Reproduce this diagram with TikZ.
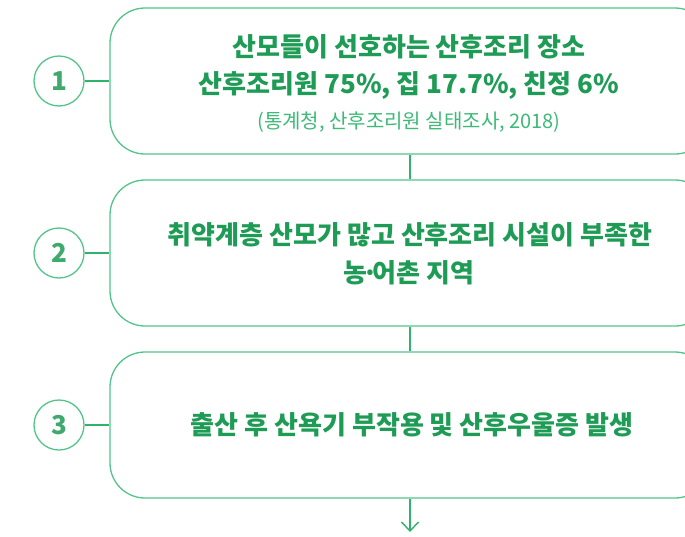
\documentclass[tikz,border=0pt]{standalone}
\usepackage{fontspec}
\setmainfont{Noto Sans CJK KR}
\newfontfamily\krfont{Noto Sans CJK KR}
\usetikzlibrary{arrows.meta}
\definecolor{bordergreen}{HTML}{52C48A}
\definecolor{linegreen}{HTML}{2DB36A}
\definecolor{textgreen}{HTML}{1E9B55}
\definecolor{subgreen}{HTML}{3DB978}
\tikzset{
  stepbox/.style={draw=bordergreen, line width=1.3pt, rounded corners=35pt,
    minimum width=600pt, minimum height=146pt, inner sep=0pt},
  numcircle/.style={circle, draw=bordergreen, line width=1.3pt, minimum size=50pt,
    inner sep=0pt, text=textgreen!85!white, font=\krfont\bfseries\fontsize{26}{26}\selectfont},
  link/.style={draw=linegreen, line width=1.4pt},
  title/.style={text=textgreen, font=\krfont\bfseries\fontsize{26}{26}\selectfont, inner sep=0pt, anchor=center},
  source/.style={text=subgreen, font=\krfont\fontsize{20}{20}\selectfont, inner sep=0pt, anchor=center}
}
\begin{document}
\begin{tikzpicture}[x=1pt,y=-1pt]
\useasboundingbox (0,0) rectangle (685,536);
\node[stepbox] (box1) at (410,81) {};
\node[stepbox] (box2) at (410,253) {};
\node[stepbox] (box3) at (410,425) {};
\node[numcircle] (c1) at (59,81) {1};
\node[numcircle] (c2) at (59,253) {2};
\node[numcircle] (c3) at (59,425) {3};
\draw[link] (c1) -- (box1);
\draw[link] (c2) -- (box2);
\draw[link] (c3) -- (box3);
\draw[link] (box1.south) -- (box2.north);
\draw[link] (box2.south) -- (box3.north);
\coordinate (arrowend) at (410,532);
\draw[link, -{Straight Barb[length=9pt,width=17pt,line width=1.4pt]}] (box3.south) -- (arrowend);
\node[title] (t1a) at (409,47) {산모들이 선호하는 산후조리 장소};
\node[title] (t1b) at (409,85) {산후조리원 75\%, 집 17.7\%, 친정 6\%};
\node[source] (t1c) at (409,122) {(통계청, 산후조리원 실태조사, 2018)};
\node[title] (t2a) at (410,235) {취약계층 산모가 많고 산후조리 시설이 부족한};
\node[title] (t2b) at (409,273) {농\kern-0.2em·\kern-0.2em어촌 지역};
\node[title] (t3a) at (412,425) {출산 후 산욕기 부작용 및 산후우울증 발생};
\end{tikzpicture}
\end{document}
